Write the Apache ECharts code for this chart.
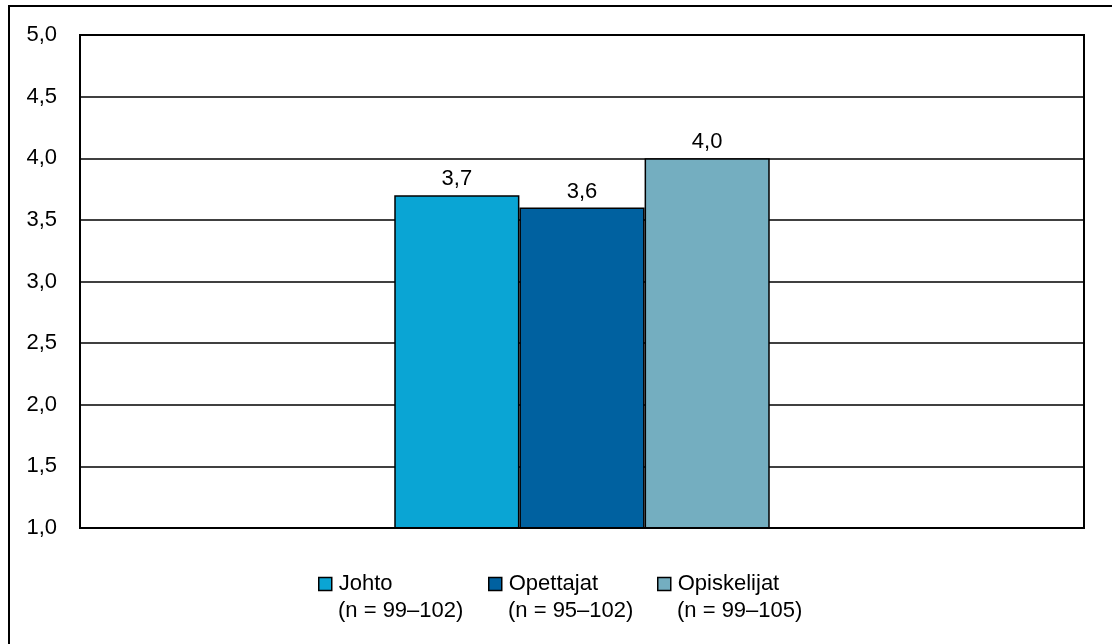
<!DOCTYPE html>
<html>
<head>
<meta charset="utf-8">
<script src="https://cdn.jsdelivr.net/npm/echarts@6/dist/echarts.min.js"></script>
<style>
html, body { margin: 0; padding: 0; background: #fff; }
#chart { width: 1112px; height: 644px; }
</style>
</head>
<body>
<div id="chart"></div>
<script>
var categories = [''];
var seriesNames = ['Johto', 'Opettajat', 'Opiskelijat'];
var seriesN = ['(n = 99–102)', '(n = 95–102)', '(n = 99–105)'];
var seriesValues = [[3.7], [3.6], [4.0]];
var seriesColors = ['#0aa5d4', '#0061a0', '#74aec0'];
var legendLeft = [318, 488, 657];

var font = 'Liberation Sans, Arial, sans-serif';
var comma = function(v) { return v.toFixed(1).replace('.', ','); };

var myChart = echarts.init(document.getElementById('chart'));

var series = [];
var legends = [];
var nTexts = [];
for (var i = 0; i < seriesNames.length; i++) {
	series.push({
		name: seriesNames[i],
		type: 'bar',
		data: seriesValues[i],
		barGap: 0,
		barCategoryGap: '62.6%',
		itemStyle: { color: seriesColors[i], borderColor: '#000', borderWidth: 1.5 },
		label: {
			show: true,
			position: 'top',
			distance: 5,
			color: '#000',
			fontFamily: font,
			fontSize: 22,
			formatter: function(p) { return comma(p.value); }
		}
	});
	// one legend per series so the items sit where the reference has them
	legends.push({
		data: [seriesNames[i]],
		left: legendLeft[i],
		top: 573,
		icon: 'rect',
		itemWidth: 13,
		itemHeight: 13,
		itemGap: 0,
		padding: 0,
		itemStyle: { borderColor: '#000', borderWidth: 1.5 },
		textStyle: { fontFamily: font, fontSize: 22, color: '#000', padding: [0, 0, 0, 2] }
	});
	nTexts.push({
		type: 'text',
		left: legendLeft[i] + 20,
		top: 600,
		style: { text: seriesN[i], font: '22px ' + font, fill: '#000' }
	});
}

myChart.setOption({
	animation: false,
	grid: { left: 80, right: 28, top: 35, bottom: 116, containLabel: false },
	legend: legends,
	graphic: [{
		type: 'rect',
		shape: { x: 9, y: 6, width: 1200, height: 700 },
		style: { fill: 'none', stroke: '#000', lineWidth: 2 },
		silent: true
	}, {
		type: 'rect',
		shape: { x: 80, y: 35, width: 1004, height: 493 },
		style: { fill: 'none', stroke: '#000', lineWidth: 2 },
		silent: true,
		z: 10
	}].concat(nTexts),
	xAxis: {
		type: 'category',
		data: categories,
		axisLine: { lineStyle: { color: '#000', width: 2 } },
		axisTick: { show: false },
		axisLabel: { show: false }
	},
	yAxis: {
		type: 'value',
		min: 1,
		max: 5,
		interval: 0.5,
		axisLine: { show: true, lineStyle: { color: '#000', width: 2 } },
		axisTick: { show: false },
		splitLine: { lineStyle: { color: '#000', width: 1.5 } },
		axisLabel: {
			margin: 23,
			color: '#000',
			fontFamily: font,
			fontSize: 22,
			formatter: function(v) { return comma(v); }
		}
	},
	series: series
});
</script>
</body>
</html>
